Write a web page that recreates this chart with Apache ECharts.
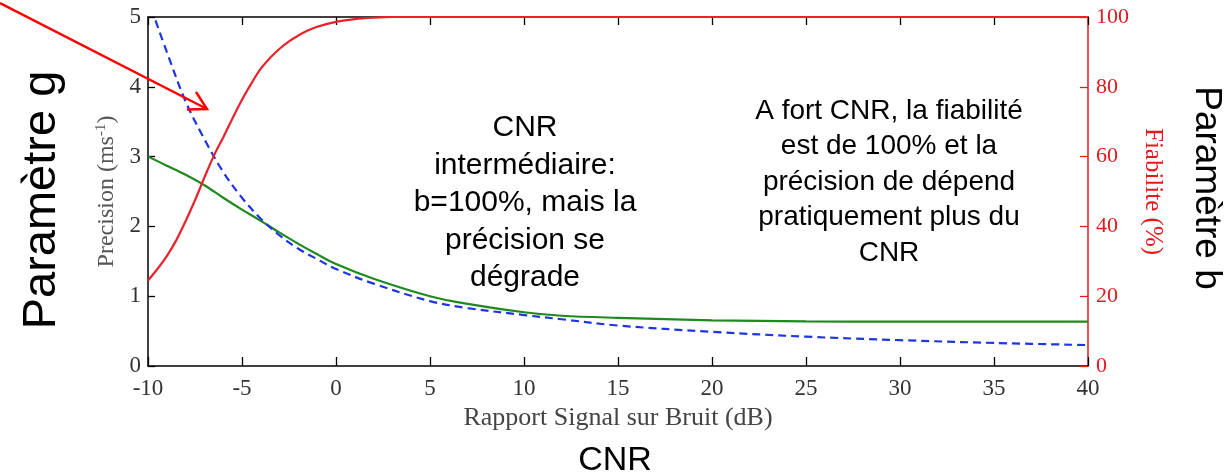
<!DOCTYPE html>
<html>
<head>
<meta charset="utf-8">
<script src="https://cdn.jsdelivr.net/npm/echarts@6/dist/echarts.min.js"></script>
<style>
  html, body { margin: 0; padding: 0; background: #fff; }
  #chart { width: 1227px; height: 475px; }
</style>
</head>
<body>
<div id="chart"></div>
<script>
// Rapport signal sur bruit (dB) and the curves read along it
const snrFiab = [-10, -9.5, -9, -8.5, -8, -7.5, -7, -6.5, -6, -5.5, -5, -4.5, -4, -3.5, -3, -2.5, -2, -1.5, -1, 0, 1, 2, 3, 5, 10, 15, 20, 25, 30, 35, 40];
const fiabilite = [24.5, 27.8, 31.5, 36, 41.5, 47.5, 54, 60.2, 65.5, 71, 76.3, 81, 85.2, 88.3, 90.9, 93, 94.7, 96.1, 97.2, 98.6, 99.4, 99.8, 100, 100, 100, 100, 100, 100, 100, 100, 100];

const snrVert = [-10, -9, -8, -7, -6, -5, -4, -3, -2, -1, 0, 2, 5, 7, 10, 12, 15, 20, 25, 30, 35, 40];
const precisionVert = [3.0, 2.87, 2.74, 2.59, 2.41, 2.24, 2.08, 1.91, 1.75, 1.60, 1.46, 1.25, 1.0, 0.89, 0.77, 0.72, 0.69, 0.655, 0.64, 0.635, 0.635, 0.635];

const snrBleu = [-9.6, -9, -8, -7, -6, -5, -4, -3, -2, -1, 0, 2, 5, 7, 10, 12, 15, 20, 25, 30, 35, 40];
const precisionBleu = [4.95, 4.5, 3.79, 3.25, 2.78, 2.41, 2.11, 1.87, 1.68, 1.53, 1.39, 1.18, 0.93, 0.83, 0.73, 0.67, 0.58, 0.49, 0.42, 0.37, 0.33, 0.30];

const zip = (xs, ys) => xs.map((x, i) => [x, ys[i]]);

const serif = 'Liberation Serif';
const red = '#e3191e';
const grey = '#333';

const chart = echarts.init(document.getElementById('chart'), null, { renderer: 'canvas' });

chart.setOption({
  animation: false,
  backgroundColor: '#fff',
  grid: { left: 148, right: 139, top: 17, bottom: 109, containLabel: false },
  xAxis: [
    {
      type: 'value', min: -10, max: 40, interval: 5, position: 'bottom',
      name: 'Rapport Signal sur Bruit (dB)', nameLocation: 'middle', nameGap: 39,
      nameTextStyle: { fontFamily: serif, fontSize: 26, color: '#444' },
      axisLine: { show: true, onZero: false, lineStyle: { color: '#000', width: 1.5 } },
      axisTick: { show: true, inside: true, length: 9, lineStyle: { color: '#000', width: 1.3 } },
      axisLabel: { fontFamily: serif, fontSize: 23, color: grey, margin: 11 },
      splitLine: { show: false }
    },
    {
      type: 'value', min: -10, max: 40, interval: 5, position: 'top',
      axisLine: { show: true, onZero: false, lineStyle: { color: '#000', width: 1.5 } },
      axisTick: { show: true, inside: true, length: 8, lineStyle: { color: '#000', width: 1.3 } },
      axisLabel: { show: false },
      splitLine: { show: false }
    }
  ],
  yAxis: [
    {
      type: 'value', min: 0, max: 5, interval: 1, position: 'left',
      name: '{a|Precision (ms}{s|-1}{a|)}', nameLocation: 'middle', nameGap: 26, nameRotate: 90,
      nameTextStyle: {
        rich: {
          a: { fontFamily: serif, fontSize: 24, color: '#555' },
          s: { fontFamily: serif, fontSize: 15, color: '#555', verticalAlign: 'top', padding: [0, 0, 11, 0] }
        }
      },
      axisLine: { show: true, onZero: false, lineStyle: { color: '#000', width: 1.5 } },
      axisTick: { show: true, inside: true, length: 7, lineStyle: { color: '#000', width: 1.3 } },
      axisLabel: { fontFamily: serif, fontSize: 23, color: grey, margin: 7 },
      splitLine: { show: false }
    },
    {
      type: 'value', min: 0, max: 100, interval: 20, position: 'right',
      name: 'Fiabilite (%)', nameLocation: 'middle', nameGap: 47, nameRotate: -90,
      nameTextStyle: { fontFamily: serif, fontSize: 25, color: red },
      axisLine: { show: true, onZero: false, lineStyle: { color: red, width: 1.5 } },
      axisTick: { show: true, inside: true, length: 8, lineStyle: { color: red, width: 1.3 } },
      axisLabel: { fontFamily: serif, fontSize: 22, color: red, margin: 8 },
      splitLine: { show: false }
    }
  ],
  series: [
    {
      name: 'Précision', type: 'line', xAxisIndex: 0, yAxisIndex: 0,
      data: zip(snrVert, precisionVert), smooth: 0.35, showSymbol: false, clip: true,
      lineStyle: { color: '#1e8a1e', width: 2.2 }, z: 3
    },
    {
      name: 'Précision (référence)', type: 'line', xAxisIndex: 0, yAxisIndex: 0,
      data: zip(snrBleu, precisionBleu), smooth: 0.35, showSymbol: false, clip: true,
      lineStyle: { color: '#1f35e0', width: 2.2, type: [8, 5] }, z: 4
    },
    {
      name: 'Fiabilité', type: 'line', xAxisIndex: 0, yAxisIndex: 1,
      data: zip(snrFiab, fiabilite), smooth: 0.35, showSymbol: false, clip: true,
      lineStyle: { color: '#e8222a', width: 2.2 }, z: 5
    }
  ],
  graphic: [
    {
      type: 'text', x: 42, y: 200, rotation: Math.PI / 2,
      style: { text: 'Paramètre g', font: '47px "Liberation Sans"', fill: '#000', align: 'center', verticalAlign: 'middle' }
    },
    {
      type: 'text', x: 1206, y: 188, rotation: -Math.PI / 2,
      style: { text: 'Paramètre b', font: '37px "Liberation Sans"', fill: '#000', align: 'center', verticalAlign: 'middle' }
    },
    {
      type: 'text', x: 615, y: 461,
      style: { text: 'CNR', font: '34px "Liberation Sans"', fill: '#000', align: 'center', verticalAlign: 'middle' }
    },
    {
      type: 'text', x: 525, y: 203,
      style: {
        text: 'CNR\nintermédiaire:\nb=100%, mais la\nprécision se\ndégrade',
        font: '30px "Liberation Sans"', lineHeight: 37.5, fill: '#000', align: 'center', verticalAlign: 'middle'
      }
    },
    {
      type: 'text', x: 889, y: 182,
      style: {
        text: 'A fort CNR, la fiabilité\nest de 100% et la\nprécision de dépend\npratiquement plus du\nCNR',
        font: '28px "Liberation Sans"', lineHeight: 35.5, fill: '#000', align: 'center', verticalAlign: 'middle'
      }
    },
    {
      type: 'polyline', z: 100,
      shape: { points: [[0, 3], [207, 109]] },
      style: { stroke: '#ff0000', lineWidth: 2.5, fill: null }
    },
    {
      type: 'polyline', z: 100,
      shape: { points: [[187, 109.5], [207, 109], [196, 92]] },
      style: { stroke: '#ff0000', lineWidth: 2.5, fill: null, lineJoin: 'miter' }
    }
  ]
});
</script>
</body>
</html>
